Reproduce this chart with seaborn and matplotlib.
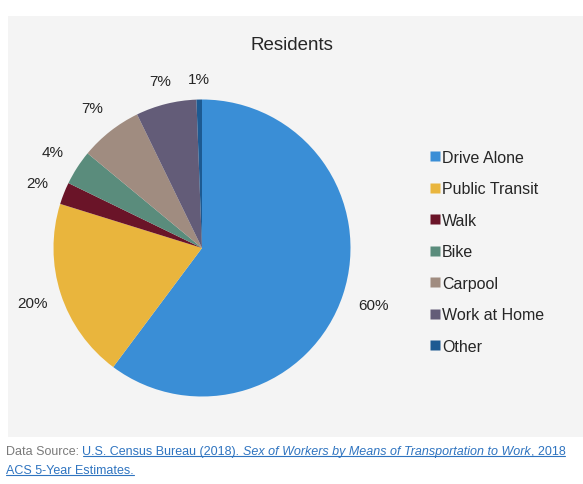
import matplotlib
matplotlib.use("Agg")
import matplotlib.pyplot as plt
import seaborn as sns
import numpy as np
from matplotlib.patches import Rectangle
from matplotlib.lines import Line2D

sns.set_theme(style="white")
plt.rcParams['font.family'] = ['Liberation Sans', 'DejaVu Sans']

# ---- data ----
categories = ["Drive Alone", "Public Transit", "Walk", "Bike", "Carpool", "Work at Home", "Other"]
shares = [60.2, 19.6, 2.4, 3.8, 6.8, 6.6, 0.6]
pct_labels = ["60%", "20%", "2%", "4%", "7%", "7%", "1%"]
colors = ["#3a8ed6", "#e9b53d", "#6a1428", "#5a8c7c", "#a08c80", "#635c78", "#1d5a92"]
title = "Residents"

W, H = 583, 485
fig = plt.figure(figsize=(W / 100, H / 100), dpi=100)
fig.patch.set_facecolor("white")

# panel background
panel = Rectangle((8 / W, 1 - 438 / H), (W - 8) / W, (438 - 17) / H,
                  transform=fig.transFigure, facecolor="#f4f4f4",
                  edgecolor="none", zorder=-5)
fig.patches.append(panel)

# pie axes (square in pixels)
cx, cy, half = 202, 249, 160
ax = fig.add_axes([(cx - half) / W, (H - cy - half) / H, 2 * half / W, 2 * half / H])
ax.set_zorder(2)
ax.patch.set_alpha(0)
r = 148.5 / half
wedges, _ = ax.pie(shares, colors=colors, startangle=90, counterclock=False,
                   radius=r, wedgeprops=dict(linewidth=0))
ax.set_xlim(-1, 1)
ax.set_ylim(-1, 1)
ax.set_aspect("equal")
ax.axis("off")

dists = [1.22, 1.20, 1.19, 1.20, 1.20, 1.16, 1.14]
for w, lab, d in zip(wedges, pct_labels, dists):
    ang = np.deg2rad((w.theta1 + w.theta2) / 2)
    ax.text(d * r * np.cos(ang), d * r * np.sin(ang), lab, ha="center", va="center",
            fontsize=11, color="#262626")

fig.text(292 / W, 1 - 45 / H, title, ha="center", va="center", fontsize=13.5, color="#262626")

handles = [Line2D([], [], marker="s", linestyle="none", markersize=7,
                  markerfacecolor=c, markeredgecolor="none") for c in colors]
leg = fig.legend(handles, categories, loc="upper left", bbox_to_anchor=(421 / W, 1 - 143 / H),
                 frameon=False, fontsize=11.5, handlelength=0.7, handletextpad=0.1,
                 labelspacing=1.03, borderpad=0, labelcolor="#262626")

# data source footer
fig.canvas.draw()
renderer = fig.canvas.get_renderer()
blue = "#2f74c0"
grey = "#7a7a7a"
fs = 9.0
pieces1 = [("Data Source: ", grey, "normal", False),
           ("U.S. Census Bureau (2018). ", blue, "normal", True),
           ("Sex of Workers by Means of Transportation to Work", blue, "italic", True),
           (", 2018", blue, "normal", True)]
x = 6
y1 = H - 455
for txt, col, st, ul in pieces1:
    t = fig.text(x / W, y1 / H, txt, color=col, fontstyle=st, fontsize=fs,
                 ha="left", va="baseline")
    bb = t.get_window_extent(renderer)
    if ul:
        fig.lines.append(Line2D([bb.x0 / W, bb.x1 / W], [(y1 - 2) / H, (y1 - 2) / H],
                                transform=fig.transFigure, color=col, linewidth=0.8))
    x = bb.x1
y2 = H - 474
t = fig.text(6 / W, y2 / H, "ACS 5-Year Estimates.", color=blue, fontsize=fs,
             ha="left", va="baseline")
bb = t.get_window_extent(renderer)
fig.lines.append(Line2D([bb.x0 / W, bb.x1 / W], [(y2 - 2) / H, (y2 - 2) / H],
                        transform=fig.transFigure, color=blue, linewidth=0.8))

fig.savefig("out.png", dpi=100, facecolor="white")
